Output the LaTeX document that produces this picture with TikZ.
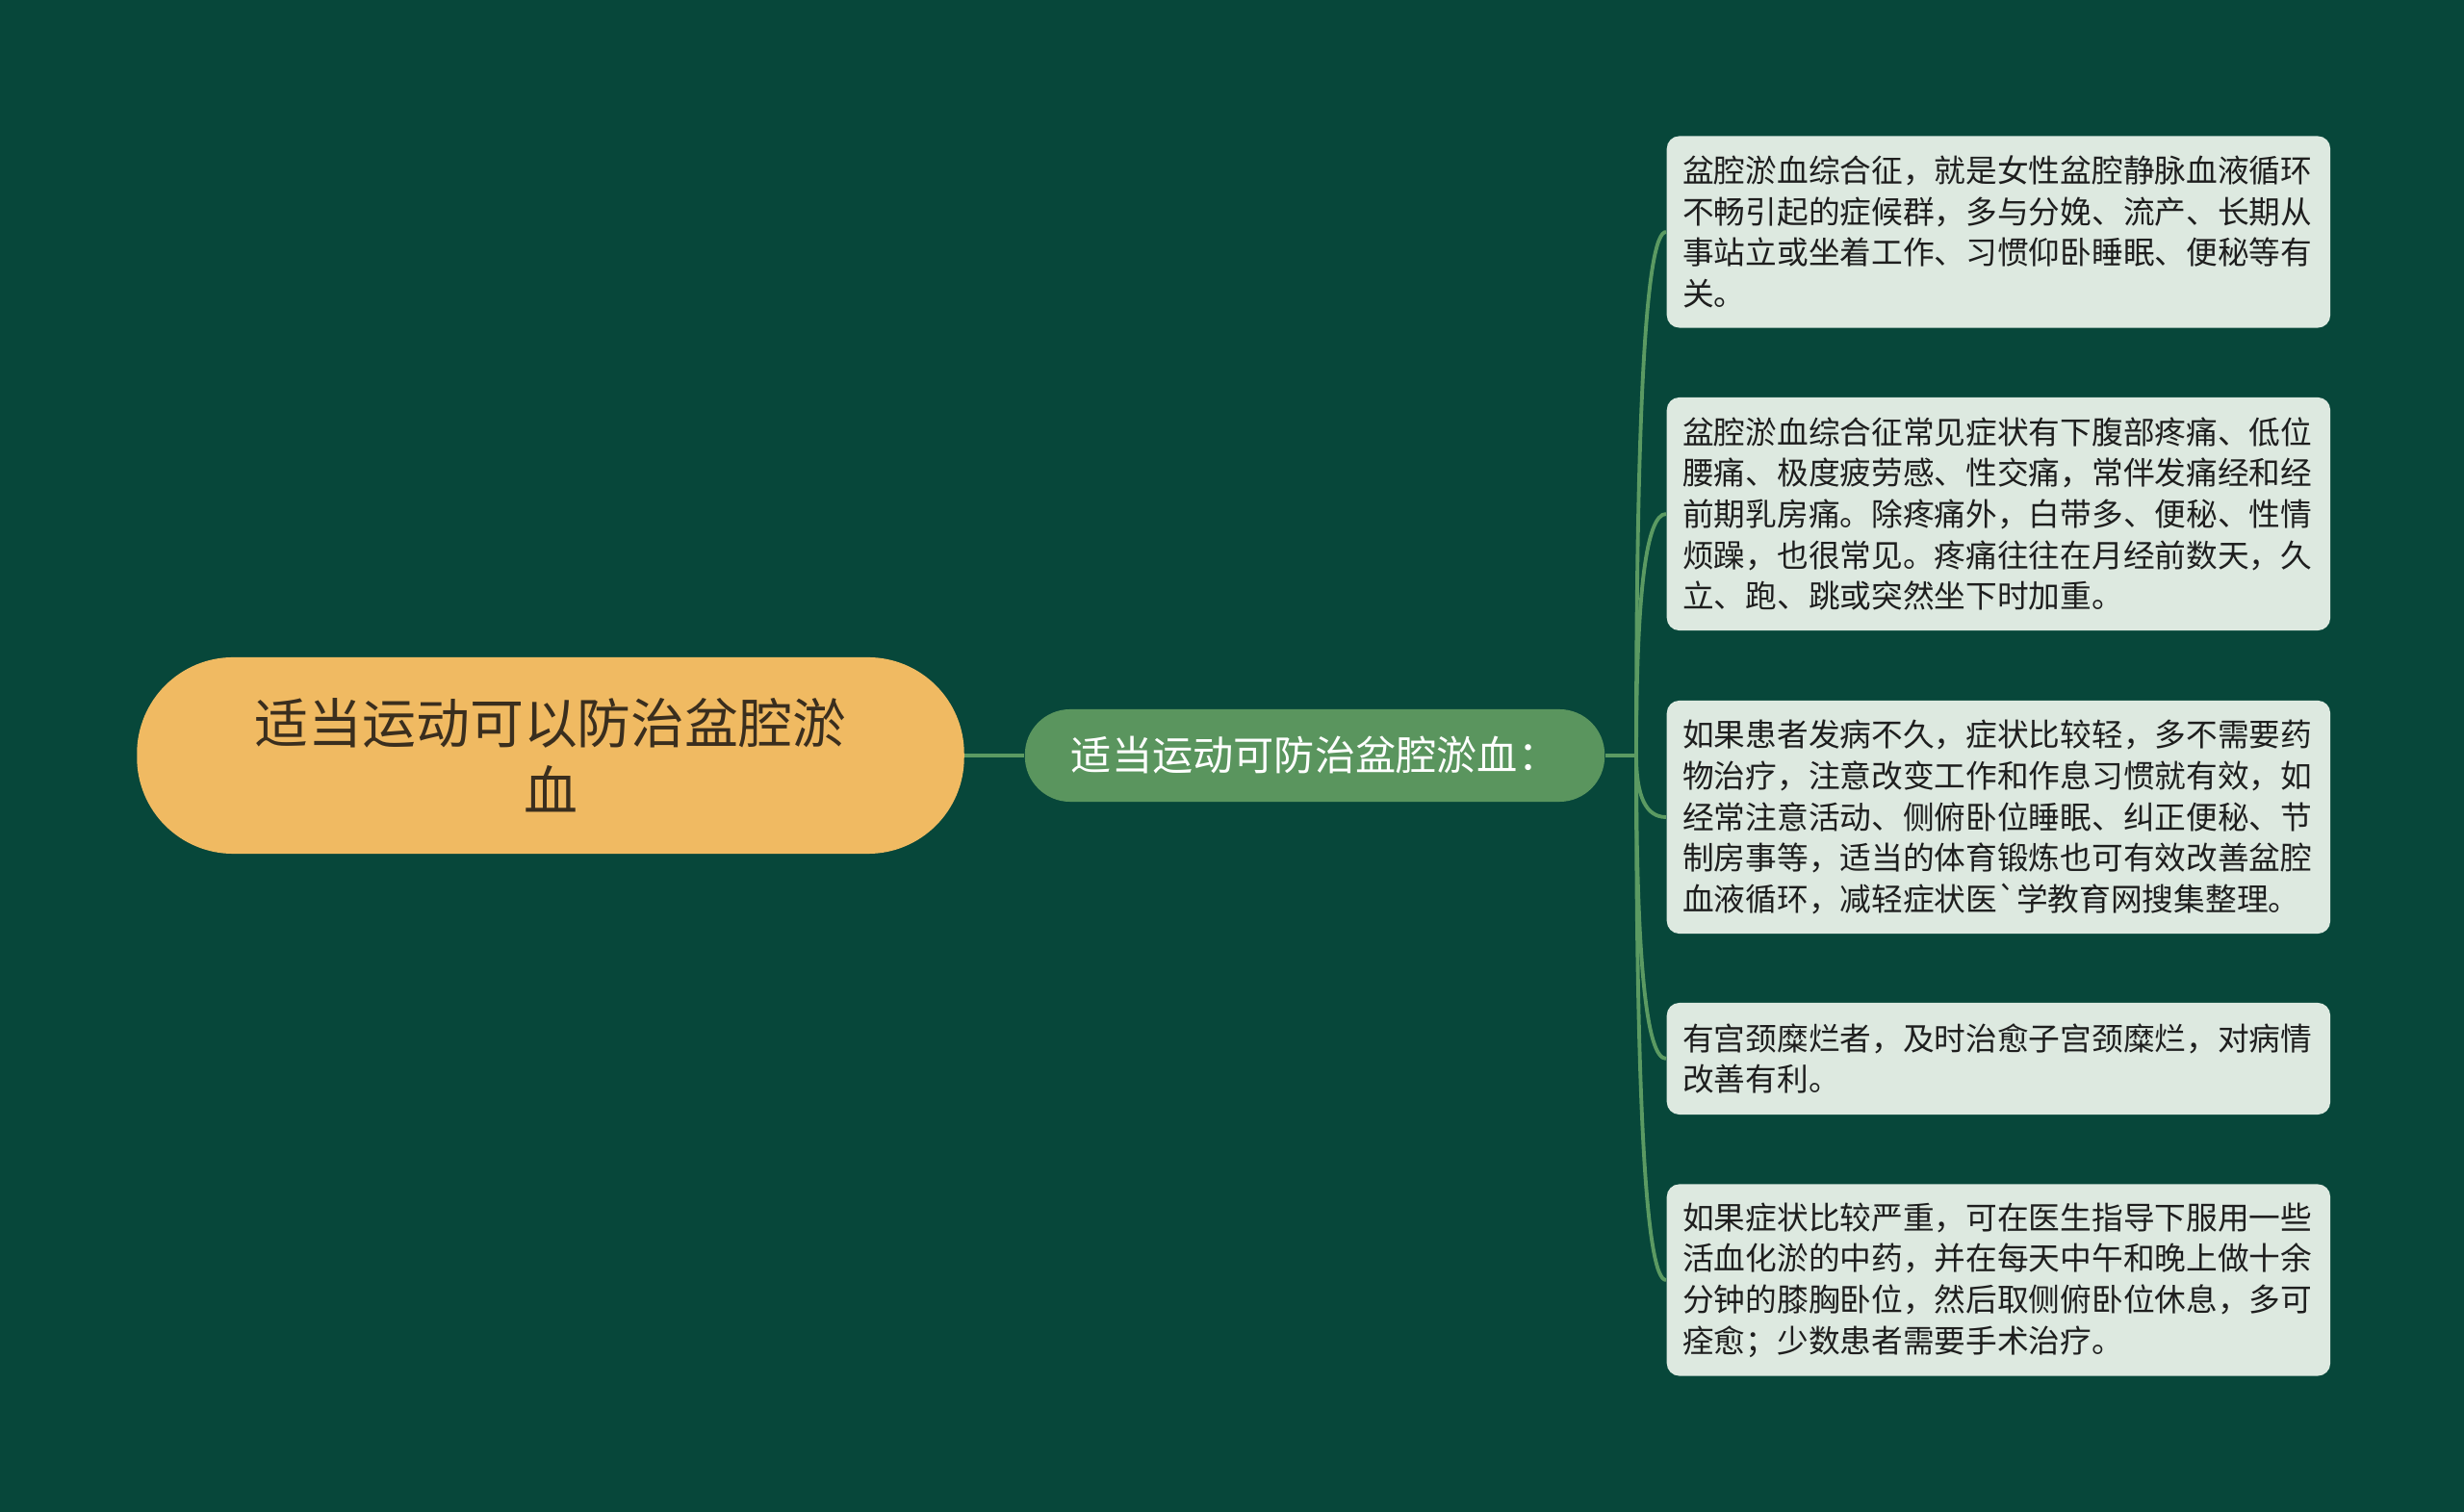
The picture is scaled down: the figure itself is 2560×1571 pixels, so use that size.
\documentclass[tikz,border=0pt]{standalone}
\usepackage{fontspec}
\newfontfamily\cjkfont{Noto Sans CJK SC}
\usetikzlibrary{calc}
\definecolor{fundo}{HTML}{07473A}
\definecolor{topicfill}{HTML}{F0BA62}
\definecolor{topictext}{HTML}{3A2E1E}
\definecolor{branchfill}{HTML}{5A955E}
\definecolor{leaffill}{HTML}{DDE9E0}
\definecolor{leaftext}{HTML}{1E1E1E}
\definecolor{linkcolor}{HTML}{5B9A62}
\tikzset{
    topic/.style={fill=topicfill,text=topictext,rounded corners=1cm,minimum width=8.59cm,minimum height=2.04cm,align=center,inner sep=0pt,font=\cjkfont\fontsize{15.9}{20}\selectfont},
    branch/.style={fill=branchfill,text=white,rounded corners=0.47cm,minimum width=6.02cm,minimum height=0.96cm,inner sep=0pt,font=\cjkfont\fontsize{12}{14}\selectfont},
    leaf/.style={fill=leaffill,text=leaftext,rounded corners=0.13cm,text width=6.56cm,inner xsep=0.165cm,inner ysep=0pt,align=left,anchor=west,font=\cjkfont\fontsize{9.3}{12.1}\selectfont},
    link/.style={draw=linkcolor,line width=1.1pt}
}
\newcommand{\ramo}[1]{\draw [link] (Fork) .. controls ($(Fork)!0.67!(Fork |- #1.west)$) and ($(#1.west)!0.67!(Fork |- #1.west)$) .. (#1.west);}

\begin{document}
\begin{tikzpicture}[x=0.01cm,y=-0.01cm]
        \fill [fundo] (0,0) rectangle (2560,1571);
        \useasboundingbox (0,0) rectangle (2560,1571);
        \node [topic] (Topic) at (572,785) {适当运动可以防治盆腔淤\\血};
        \node [branch] (Branch) at (1366,785) {适当运动可防治盆腔淤血：};
        \coordinate (Fork) at (1700,785);
        \node [leaf,minimum height=1.99cm] (Definition) at (1731,241) {
            盆腔淤血综合征，就是女性盆腔静脉血液循环\\
            不畅引起的症候群，多与分娩、流产、长期从\\
            事站立或坐着工作、习惯仰卧睡眠、便秘等有\\
            关。};
        \node [leaf,minimum height=2.42cm] (Symptoms) at (1731,534) {
            盆腔淤血综合征常见症状有下腹部疼痛、低位\\
            腰痛、极度疲劳感、性交痛，常伴发痛经和经\\
            前期乳房痛。除疼痛外，白带多、便秘、性情\\
            烦躁，也很常见。疼痛往往在月经前数天，久\\
            立、跑、跳或突然坐下时加重。};
        \node [leaf,minimum height=2.42cm] (Mild) at (1731,849) {
            如果患者发病不久，症状比较轻，多不需要药\\
            物治疗，注意改变工作和作息习惯就有效，如\\
            经常注意活动、侧俯卧位睡眠、纠正便秘、节\\
            制房事等，适当的体育锻炼也可有效改善盆腔\\
            血液循环，减轻症状医`学教育网搜集整理。};
        \node [leaf,minimum height=1.16cm] (Cervix) at (1731,1100) {
            有宫颈糜烂者，及时治愈子宫颈糜烂，对病情\\
            改善有利。};
        \node [leaf,minimum height=1.99cm] (Severe) at (1731,1330) {
            如果症状比较严重，可在医生指导下服用一些\\
            活血化淤的中药，并在每天中午和晚上做十余\\
            分钟的膝胸卧位，然后取侧俯卧位休息，多可\\
            痊愈；少数患者需要手术治疗。};
        \draw [link] (Topic.east) -- (Branch.west);
        \draw [link] (Branch.east) -- (Fork);
        \ramo{Definition}
        \ramo{Symptoms}
        \ramo{Mild}
        \ramo{Cervix}
        \ramo{Severe}
    \end{tikzpicture}
\end{document}
